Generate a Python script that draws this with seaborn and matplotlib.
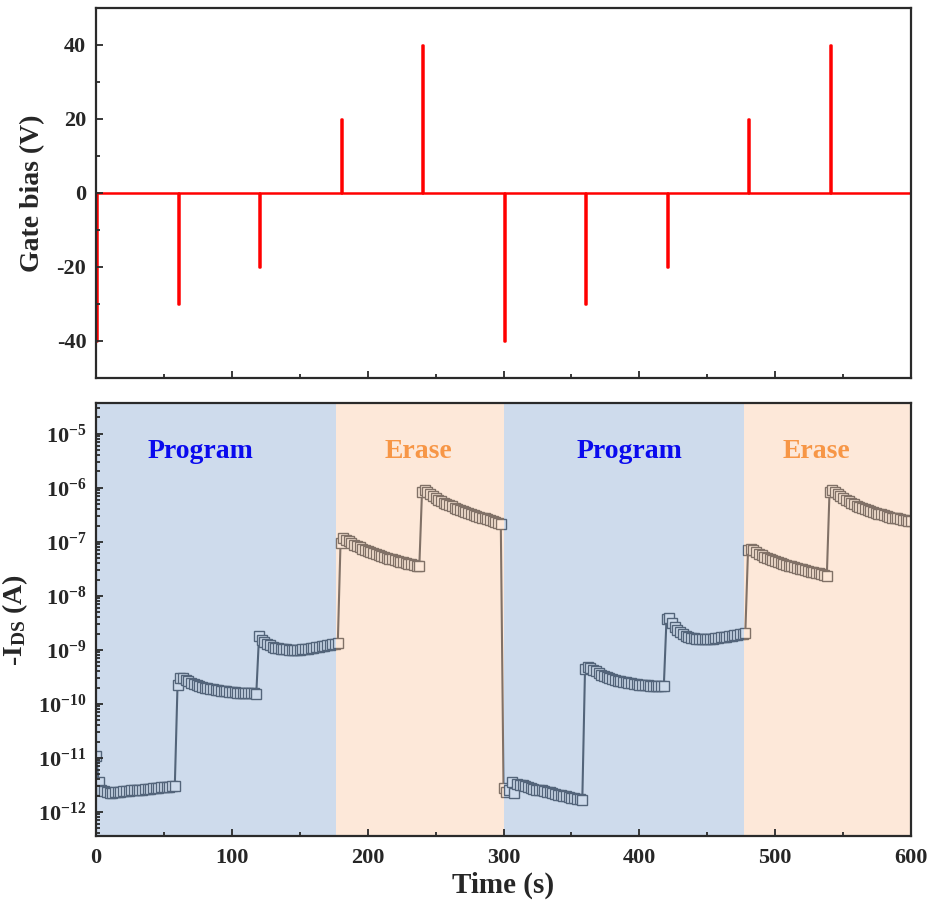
import numpy as np
import pandas as pd
import matplotlib
matplotlib.use("Agg")
import matplotlib.pyplot as plt
import seaborn as sns
from matplotlib.ticker import MultipleLocator, LogLocator, NullFormatter

# gate pulses (top panel)
pulse_times = [0, 60, 120, 180, 240, 300, 360, 420, 480, 540]
pulse_volts = [-40, -30, -20, 20, 40, -40, -30, -20, 20, 40]
pulse_width = 1.0

# drain current read every 2 s (bottom panel)
time_s = np.arange(0, 601, 2)
ids_0_60 = [1.1e-11, 3.6e-12, 2.6e-12, 2.4e-12, 2.3e-12, 2.25e-12, 2.25e-12, 2.3e-12, 2.3e-12, 2.35e-12,
            2.4e-12, 2.4e-12, 2.45e-12, 2.5e-12, 2.5e-12, 2.55e-12, 2.6e-12, 2.6e-12, 2.65e-12, 2.7e-12,
            2.7e-12, 2.75e-12, 2.8e-12, 2.8e-12, 2.85e-12, 2.9e-12, 2.9e-12, 2.95e-12, 3.0e-12, 3.0e-12]
ids_60_120 = [2.2e-10, 3.0e-10, 3.0e-10, 2.8e-10, 2.6e-10, 2.45e-10, 2.3e-10, 2.2e-10, 2.1e-10, 2.05e-10,
              2.0e-10, 1.95e-10, 1.9e-10, 1.85e-10, 1.8e-10, 1.78e-10, 1.75e-10, 1.72e-10, 1.7e-10, 1.68e-10,
              1.66e-10, 1.64e-10, 1.62e-10, 1.61e-10, 1.6e-10, 1.59e-10, 1.58e-10, 1.57e-10, 1.56e-10, 1.55e-10]
ids_120_180 = [1.8e-9, 1.5e-9, 1.4e-9, 1.3e-9, 1.22e-9, 1.15e-9, 1.1e-9, 1.07e-9, 1.05e-9, 1.03e-9,
               1.02e-9, 1.01e-9, 1.0e-9, 1.0e-9, 1.0e-9, 1.01e-9, 1.02e-9, 1.03e-9, 1.05e-9, 1.07e-9,
               1.09e-9, 1.11e-9, 1.13e-9, 1.16e-9, 1.19e-9, 1.22e-9, 1.25e-9, 1.28e-9, 1.31e-9, 1.35e-9]
ids_180_240 = [9.5e-8, 1.15e-7, 1.1e-7, 1.02e-7, 9.5e-8, 8.9e-8, 8.4e-8, 7.9e-8, 7.5e-8, 7.1e-8,
               6.8e-8, 6.5e-8, 6.2e-8, 5.95e-8, 5.7e-8, 5.5e-8, 5.3e-8, 5.1e-8, 4.9e-8, 4.75e-8,
               4.6e-8, 4.45e-8, 4.3e-8, 4.15e-8, 4.0e-8, 3.9e-8, 3.8e-8, 3.7e-8, 3.6e-8, 3.5e-8]
ids_240_300 = [8.5e-7, 9.0e-7, 8.5e-7, 7.8e-7, 7.1e-7, 6.5e-7, 6.0e-7, 5.6e-7, 5.3e-7, 5.0e-7,
               4.8e-7, 4.5e-7, 4.3e-7, 4.1e-7, 3.9e-7, 3.7e-7, 3.55e-7, 3.4e-7, 3.25e-7, 3.1e-7,
               3.0e-7, 2.9e-7, 2.8e-7, 2.7e-7, 2.6e-7, 2.5e-7, 2.4e-7, 2.3e-7, 2.2e-7, 2.1e-7]
ids_300_360 = [2.8e-12, 2.3e-12, 2.5e-12, 3.6e-12, 2.2e-12, 3.3e-12, 3.2e-12, 3.1e-12, 3.0e-12, 2.9e-12,
               2.8e-12, 2.7e-12, 2.6e-12, 2.55e-12, 2.5e-12, 2.4e-12, 2.35e-12, 2.3e-12, 2.2e-12, 2.15e-12,
               2.1e-12, 2.05e-12, 2.0e-12, 1.95e-12, 1.9e-12, 1.85e-12, 1.8e-12, 1.75e-12, 1.72e-12, 1.68e-12]
ids_360_420 = [4.5e-10, 4.9e-10, 4.7e-10, 4.3e-10, 4.0e-10, 3.7e-10, 3.5e-10, 3.3e-10, 3.15e-10, 3.0e-10,
               2.9e-10, 2.8e-10, 2.7e-10, 2.6e-10, 2.55e-10, 2.5e-10, 2.45e-10, 2.4e-10, 2.35e-10, 2.3e-10,
               2.28e-10, 2.25e-10, 2.22e-10, 2.2e-10, 2.18e-10, 2.16e-10, 2.14e-10, 2.12e-10, 2.1e-10, 2.1e-10]
ids_420_480 = [3.8e-9, 3.9e-9, 3.2e-9, 2.7e-9, 2.35e-9, 2.1e-9, 1.95e-9, 1.82e-9, 1.73e-9, 1.67e-9,
               1.63e-9, 1.6e-9, 1.58e-9, 1.57e-9, 1.57e-9, 1.58e-9, 1.6e-9, 1.62e-9, 1.64e-9, 1.67e-9,
               1.7e-9, 1.73e-9, 1.76e-9, 1.8e-9, 1.83e-9, 1.87e-9, 1.9e-9, 1.94e-9, 1.98e-9, 2.02e-9]
ids_480_540 = [7.0e-8, 7.5e-8, 7.0e-8, 6.5e-8, 6.0e-8, 5.6e-8, 5.3e-8, 5.0e-8, 4.8e-8, 4.6e-8,
               4.4e-8, 4.2e-8, 4.05e-8, 3.9e-8, 3.75e-8, 3.6e-8, 3.5e-8, 3.4e-8, 3.3e-8, 3.2e-8,
               3.1e-8, 3.0e-8, 2.9e-8, 2.8e-8, 2.75e-8, 2.7e-8, 2.6e-8, 2.5e-8, 2.4e-8, 2.3e-8]
ids_540_600 = [8.5e-7, 9.0e-7, 8.5e-7, 7.8e-7, 7.1e-7, 6.5e-7, 6.0e-7, 5.6e-7, 5.2e-7, 4.9e-7,
               4.6e-7, 4.4e-7, 4.2e-7, 4.0e-7, 3.85e-7, 3.7e-7, 3.55e-7, 3.4e-7, 3.3e-7, 3.2e-7,
               3.1e-7, 3.0e-7, 2.9e-7, 2.8e-7, 2.75e-7, 2.7e-7, 2.6e-7, 2.55e-7, 2.5e-7, 2.45e-7, 2.4e-7]

phase_names = ["Program", "Erase", "Program", "Erase"]
phase_start = [0, 177, 300, 477]
phase_end = [177, 300, 477, 600]

sns.set_style("ticks")
plt.rcParams["font.family"] = ["Liberation Serif", "DejaVu Serif"]
plt.rcParams["font.weight"] = "bold"
plt.rcParams["axes.labelweight"] = "bold"
plt.rcParams["axes.unicode_minus"] = False
plt.rcParams["mathtext.fontset"] = "custom"
plt.rcParams["mathtext.rm"] = "Liberation Serif:bold"
plt.rcParams["mathtext.it"] = "Liberation Serif:italic:bold"
plt.rcParams["mathtext.bf"] = "Liberation Serif:bold"
plt.rcParams["mathtext.default"] = "rm"

spine_col = "#2a2a2a"
data_col = "#1e2630"

fig = plt.figure(figsize=(9.34, 9.06), dpi=100)
ax1 = fig.add_axes([0.1028, 0.5828, 0.8726, 0.4084])
ax2 = fig.add_axes([0.1028, 0.0773, 0.8726, 0.4779])

# --- top panel: gate bias
gate_t, gate_v = [0], [0]
for t0, v in zip(pulse_times, pulse_volts):
    gate_t += [t0, t0, t0 + pulse_width, t0 + pulse_width]
    gate_v += [0, v, v, 0]
gate_t.append(600)
gate_v.append(0)
gate = pd.DataFrame({"t": gate_t, "v": gate_v})
sns.lineplot(data=gate, x="t", y="v", sort=False, estimator=None,
             color="#ff0000", lw=1.8, ax=ax1)
ax1.set_xlim(0, 600)
ax1.set_ylim(-50, 50)
ax1.yaxis.set_major_locator(MultipleLocator(20))
ax1.yaxis.set_minor_locator(MultipleLocator(10))
ax1.xaxis.set_major_locator(MultipleLocator(100))
ax1.xaxis.set_minor_locator(MultipleLocator(50))
ax1.tick_params(axis="x", labelbottom=False)
ax1.set_xlabel("")
ax1.set_ylabel("Gate bias (V)", fontsize=20, labelpad=8)

# --- bottom panel: drain current
ids = np.concatenate([ids_0_60, ids_60_120, ids_120_180, ids_180_240, ids_240_300,
                      ids_300_360, ids_360_420, ids_420_480, ids_480_540, ids_540_600])
df = pd.DataFrame({"t": time_s, "ids": ids})
sns.lineplot(data=df, x="t", y="ids", sort=False, estimator=None, ax=ax2,
             color=data_col, lw=1.5, marker="s", markersize=6.5,
             markerfacecolor="white", markeredgecolor=data_col,
             markeredgewidth=1.0, zorder=1)
ax2.set_yscale("log")
ax2.set_xlim(0, 600)
ax2.set_ylim(3.6e-13, 3.7e-5)

span_cols = {"Program": "#94b1d5", "Erase": "#fbceab"}
text_cols = {"Program": "#0a0aee", "Erase": "#f79646"}
label_x = [77, 237, 393, 530]
for name, s, e, lx in zip(phase_names, phase_start, phase_end, label_x):
    ax2.axvspan(s, e, color=span_cols[name], alpha=0.45, lw=0, zorder=1.5)
    ax2.text(lx, 4.7e-6, name, color=text_cols[name], fontsize=20,
             fontweight="bold", ha="center", va="center", zorder=4)

ax2.xaxis.set_major_locator(MultipleLocator(100))
ax2.xaxis.set_minor_locator(MultipleLocator(50))
ax2.yaxis.set_major_locator(LogLocator(base=10, numticks=20))
ax2.yaxis.set_minor_locator(LogLocator(base=10, subs=np.arange(2, 10), numticks=20))
ax2.yaxis.set_minor_formatter(NullFormatter())
ax2.set_xlabel("Time (s)", fontsize=21, labelpad=2)
ax2.set_ylabel(r"-I$_{\mathregular{DS}}$ (A)", fontsize=20, labelpad=6)

for ax in (ax1, ax2):
    ax.set_axisbelow(False)
    for sp in ax.spines.values():
        sp.set_color(spine_col)
        sp.set_linewidth(1.6)
        sp.set_zorder(3)
    ax.tick_params(which="both", direction="in", color=spine_col, width=1.3,
                   top=False, right=False)
    ax.tick_params(which="major", length=5)
    ax.tick_params(which="minor", length=3)
ax1.tick_params(axis="y", labelsize=16, pad=7)
ax2.tick_params(axis="y", labelsize=16, pad=7)
ax2.tick_params(axis="x", labelsize=16, pad=9)

fig.savefig("out.png", dpi=100)
